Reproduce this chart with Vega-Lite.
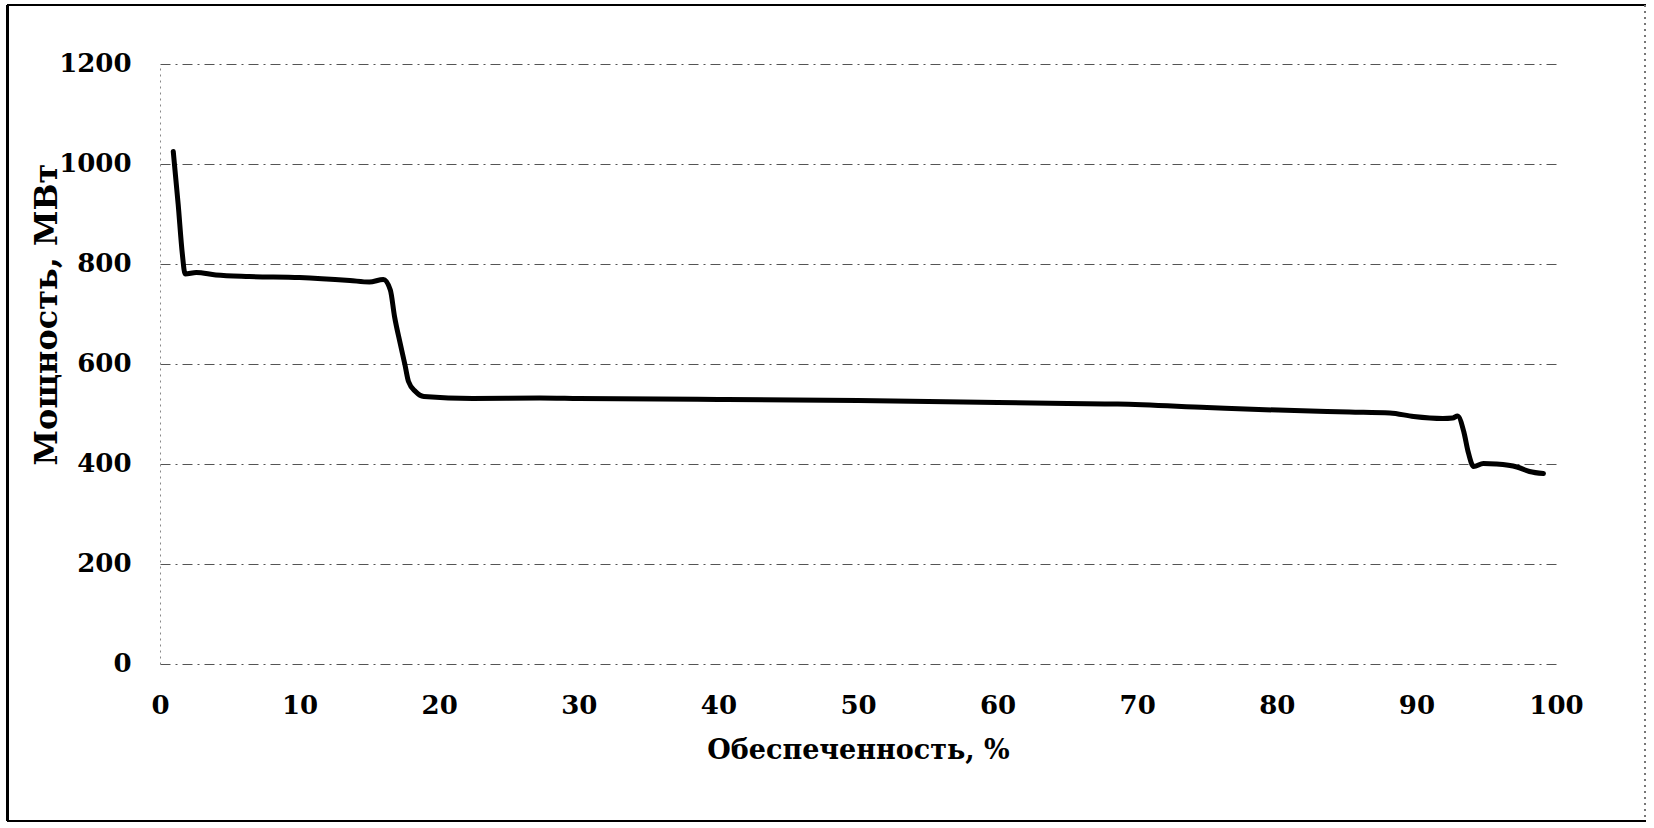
{
  "$schema": "https://vega.github.io/schema/vega-lite/v6.json",
  "autosize": "none",
  "width": 1396,
  "height": 600,
  "padding": {"left": 160, "top": 64, "right": 98, "bottom": 164},
  "background": "white",
  "config": {
    "view": {"stroke": null},
    "font": "DejaVu Serif"
  },
  "data": {"values": [
    {"p": 0.95, "v": 1025},
    {"p": 1.3, "v": 920},
    {"p": 1.6, "v": 820},
    {"p": 1.8, "v": 780},
    {"p": 2.6, "v": 783},
    {"p": 4.0, "v": 778},
    {"p": 6.4, "v": 775},
    {"p": 10.0, "v": 773},
    {"p": 13.6, "v": 767},
    {"p": 15.0, "v": 764},
    {"p": 16.0, "v": 769},
    {"p": 16.5, "v": 748},
    {"p": 16.8, "v": 695},
    {"p": 17.2, "v": 642},
    {"p": 17.55, "v": 598},
    {"p": 17.8, "v": 565},
    {"p": 18.3, "v": 545},
    {"p": 18.9, "v": 535},
    {"p": 22.4, "v": 531},
    {"p": 27.2, "v": 532},
    {"p": 30, "v": 531},
    {"p": 40, "v": 529},
    {"p": 50, "v": 527},
    {"p": 60, "v": 523},
    {"p": 65, "v": 521},
    {"p": 68.6, "v": 520},
    {"p": 75, "v": 513},
    {"p": 78.7, "v": 509},
    {"p": 85.2, "v": 504},
    {"p": 88.1, "v": 502},
    {"p": 89.8, "v": 495},
    {"p": 91.9, "v": 491},
    {"p": 92.6, "v": 492},
    {"p": 92.95, "v": 496},
    {"p": 93.4, "v": 464},
    {"p": 93.7, "v": 425},
    {"p": 94.1, "v": 395},
    {"p": 94.8, "v": 401},
    {"p": 95.7, "v": 400},
    {"p": 97.2, "v": 394},
    {"p": 98.1, "v": 385},
    {"p": 99.1, "v": 381}
  ]},
  "layer": [
    {
      "mark": {"type": "rule", "clip": false, "color": "black", "strokeWidth": 2},
      "encoding": {
        "x": {"datum": -10.9, "type": "quantitative"},
        "x2": {"datum": 106.4},
        "y": {"datum": 1318, "type": "quantitative"}
      }
    },
    {
      "mark": {"type": "rule", "clip": false, "color": "black", "strokeWidth": 2},
      "encoding": {
        "x": {"datum": -10.9, "type": "quantitative"},
        "x2": {"datum": 106.4},
        "y": {"datum": -314, "type": "quantitative"}
      }
    },
    {
      "mark": {"type": "rule", "clip": false, "color": "black", "strokeWidth": 2},
      "encoding": {
        "x": {"datum": -10.9, "type": "quantitative"},
        "y": {"datum": 1318, "type": "quantitative"},
        "y2": {"datum": -314}
      }
    },
    {
      "mark": {"type": "rule", "clip": false, "color": "#777", "strokeWidth": 1, "strokeDash": [2, 4]},
      "encoding": {
        "x": {"datum": 106.4, "type": "quantitative"},
        "y": {"datum": 1318, "type": "quantitative"},
        "y2": {"datum": -314}
      }
    },
    {
      "mark": {"type": "line", "color": "black", "strokeWidth": 5, "interpolate": "monotone", "strokeJoin": "round", "strokeCap": "round"},
      "encoding": {
        "x": {
          "field": "p", "type": "quantitative",
          "scale": {"domain": [0, 100], "nice": false, "zero": false},
          "axis": {
            "title": "Обеспеченность, %",
            "values": [0, 10, 20, 30, 40, 50, 60, 70, 80, 90, 100],
            "format": "d",
            "grid": false, "domain": false, "ticks": false,
            "labelFlush": false,
            "labelFont": "DejaVu Serif", "labelFontWeight": "bold", "labelFontSize": 26, "labelColor": "black",
            "labelPadding": 28,
            "titleFont": "DejaVu Serif", "titleFontWeight": "bold", "titleFontSize": 27, "titleColor": "black",
            "titlePadding": 19
          }
        },
        "y": {
          "field": "v", "type": "quantitative",
          "scale": {"domain": [0, 1200], "nice": false},
          "axis": {
            "title": "Мощность, МВт",
            "values": [0, 200, 400, 600, 800, 1000, 1200],
            "format": "d",
            "grid": true, "gridColor": "#555", "gridDash": [10, 5, 2, 5], "gridWidth": 1,
            "domain": true, "domainColor": "#888", "domainDash": [2, 4], "domainWidth": 1,
            "ticks": false,
            "labelFlush": false,
            "labelOffset": -1,
            "labelFont": "DejaVu Serif", "labelFontWeight": "bold", "labelFontSize": 26, "labelColor": "black",
            "labelPadding": 29,
            "titleFont": "DejaVu Serif", "titleFontWeight": "bold", "titleFontSize": 32, "titleColor": "black",
            "titleX": -97,
            "titleY": 250,
            "titleBaseline": "bottom"
          }
        }
      }
    }
  ]
}
